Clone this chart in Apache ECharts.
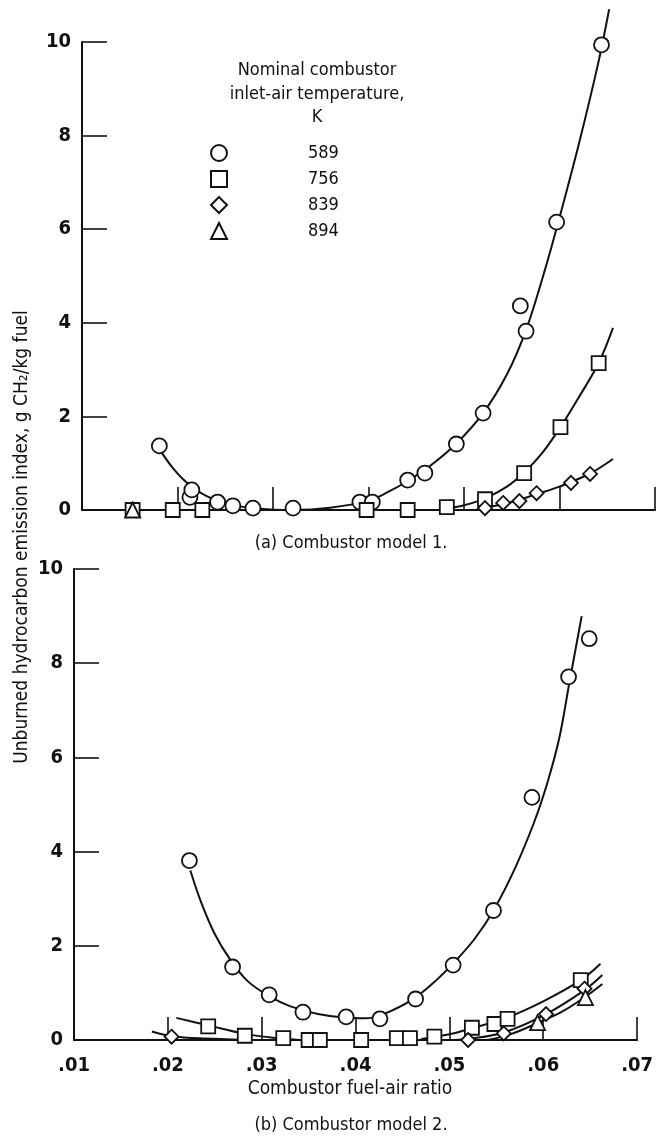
<!DOCTYPE html>
<html>
<head>
<meta charset="utf-8">
<script src="https://cdn.jsdelivr.net/npm/echarts@6/dist/echarts.min.js"></script>
<style>
  html, body { margin: 0; padding: 0; background: #fff; }
  #chart { width: 656px; height: 1141px; }
</style>
</head>
<body>
<div id="chart"></div>
<script>
// Unburned hydrocarbon emission index vs. combustor fuel-air ratio,
// two combustor models, four nominal inlet-air temperatures (K).

const temps = ['589', '756', '839', '894'];
const yTicks = [0, 2, 4, 6, 8, 10];

// ---- (a) Combustor model 1: measured points ----
const m1_589_x = [0.0181, 0.0213, 0.0215, 0.0242, 0.0258, 0.0279, 0.0321, 0.0391, 0.0404, 0.0441, 0.0459, 0.0492, 0.0520, 0.0559, 0.0565, 0.0597, 0.0644];
const m1_589_y = [1.37, 0.27, 0.43, 0.17, 0.09, 0.04, 0.04, 0.17, 0.17, 0.64, 0.79, 1.41, 2.07, 4.36, 3.82, 6.15, 9.94];
const m1_756_x = [0.0153, 0.0195, 0.0226, 0.0398, 0.0441, 0.0482, 0.0522, 0.0563, 0.0601, 0.0641];
const m1_756_y = [0, 0, 0, 0, 0, 0.06, 0.23, 0.79, 1.77, 3.14];
const m1_839_x = [0.0522, 0.0541, 0.0558, 0.0576, 0.0612, 0.0632];
const m1_839_y = [0.04, 0.15, 0.19, 0.36, 0.58, 0.77];
const m1_894_x = [0.0153];
const m1_894_y = [0];

// ---- (a) faired curves ----
const m1_589_fit_x = [0.0181, 0.0195, 0.0210, 0.0230, 0.0255, 0.0280, 0.0320, 0.0360, 0.0400, 0.0420, 0.0441, 0.0465, 0.0492, 0.0520, 0.0545, 0.0565, 0.0585, 0.0600, 0.0620, 0.0640, 0.0652];
const m1_589_fit_y = [1.30, 0.90, 0.58, 0.30, 0.12, 0.04, 0.00, 0.05, 0.20, 0.38, 0.62, 0.95, 1.42, 2.07, 2.90, 3.85, 5.15, 6.25, 7.80, 9.50, 10.70];
const m1_756_fit_x = [0.0484, 0.0500, 0.0522, 0.0545, 0.0563, 0.0582, 0.0601, 0.0620, 0.0641, 0.0656];
const m1_756_fit_y = [0.04, 0.10, 0.25, 0.50, 0.80, 1.22, 1.77, 2.40, 3.14, 3.89];
const m1_839_fit_x = [0.0512, 0.0530, 0.0550, 0.0576, 0.0600, 0.0632, 0.0656];
const m1_839_fit_y = [0.00, 0.08, 0.17, 0.34, 0.50, 0.78, 1.09];

// ---- (b) Combustor model 2: measured points ----
const m2_589_x = [0.0223, 0.0269, 0.0308, 0.0344, 0.0390, 0.0426, 0.0464, 0.0504, 0.0547, 0.0588, 0.0627, 0.0649];
const m2_589_y = [3.81, 1.55, 0.96, 0.59, 0.49, 0.45, 0.87, 1.59, 2.75, 5.15, 7.71, 8.52];
const m2_756_x = [0.0243, 0.0282, 0.0323, 0.0350, 0.0362, 0.0406, 0.0444, 0.0458, 0.0484, 0.0524, 0.0548, 0.0562, 0.0640];
const m2_756_y = [0.29, 0.09, 0.04, 0, 0, 0, 0.04, 0.04, 0.07, 0.26, 0.34, 0.45, 1.27];
const m2_839_x = [0.0204, 0.0520, 0.0558, 0.0603, 0.0644];
const m2_839_y = [0.07, 0.0, 0.14, 0.55, 1.09];
const m2_894_x = [0.0594, 0.0645];
const m2_894_y = [0.37, 0.90];

// ---- (b) faired curves (null breaks a curve into two pieces) ----
const m2_589_fit_x = [0.0224, 0.0235, 0.0250, 0.0267, 0.0285, 0.0308, 0.0330, 0.0360, 0.0390, 0.0410, 0.0430, 0.0460, 0.0485, 0.0507, 0.0527, 0.0547, 0.0570, 0.0591, 0.0605, 0.0617, 0.0628, 0.0641];
const m2_589_fit_y = [3.60, 2.95, 2.25, 1.69, 1.25, 0.93, 0.72, 0.55, 0.47, 0.46, 0.55, 0.85, 1.25, 1.69, 2.15, 2.75, 3.65, 4.66, 5.50, 6.40, 7.60, 9.00];
const m2_756_fit_x = [0.0209, 0.0243, 0.0282, 0.0320, 0.0340, null, 0.0470, 0.0500, 0.0524, 0.0562, 0.0600, 0.0640, 0.0661];
const m2_756_fit_y = [0.47, 0.31, 0.13, 0.03, 0.00, null, 0.02, 0.12, 0.25, 0.48, 0.82, 1.27, 1.62];
const m2_839_fit_x = [0.0183, 0.0204, 0.0240, 0.0290, 0.0320, null, 0.0505, 0.0520, 0.0558, 0.0603, 0.0644, 0.0663];
const m2_839_fit_y = [0.18, 0.08, 0.03, 0.00, 0.00, null, 0.00, 0.02, 0.16, 0.55, 1.06, 1.38];
const m2_894_fit_x = [0.0540, 0.0565, 0.0594, 0.0620, 0.0645, 0.0663];
const m2_894_fit_y = [0.00, 0.12, 0.36, 0.60, 0.92, 1.19];

const FONT = "'Liberation Sans Narrow','DejaVu Sans Condensed','Roboto Condensed',sans-serif";
const INK = '#111';

function pairs(xs, ys) {
  return xs.map((x, i) => (x === null ? [null, null] : [x, ys[i]]));
}

const symbolOf = { '589': 'circle', '756': 'rect', '839': 'diamond', '894': 'triangle' };
const sizeOf = { '589': 15, '756': 14, '839': 14, '894': 15 };

function points(name, xs, ys, axis) {
  return {
    name: name, type: 'scatter', xAxisIndex: axis, yAxisIndex: axis,
    data: pairs(xs, ys), symbol: symbolOf[name], symbolSize: sizeOf[name],
    itemStyle: { color: '#fff', borderColor: INK, borderWidth: 1.8, opacity: 1 },
    z: 5, silent: true, clip: false
  };
}

function curve(id, xs, ys, axis) {
  return {
    name: id, type: 'line', xAxisIndex: axis, yAxisIndex: axis,
    data: pairs(xs, ys), showSymbol: false, symbol: 'none',
    smooth: 0.35, connectNulls: false, clip: false,
    lineStyle: { color: INK, width: 2 }, z: 3, silent: true
  };
}

function xAxis(grid, showLabels) {
  return {
    type: 'value', gridIndex: grid, min: 0.01, max: 0.07, interval: 0.01,
    axisLine: { show: true, onZero: false, lineStyle: { color: INK, width: 2 } },
    axisTick: { show: true, inside: true, length: 23, lineStyle: { color: INK, width: 1.6 } },
    axisLabel: {
      show: showLabels, margin: 16, color: INK, fontFamily: FONT, fontWeight: 'bold', fontSize: 20,
      formatter: v => '.' + v.toFixed(2).slice(2)
    },
    splitLine: { show: false }
  };
}

function yAxis(grid) {
  return {
    type: 'value', gridIndex: grid, min: yTicks[0], max: yTicks[yTicks.length - 1], interval: 2,
    axisLine: { show: true, lineStyle: { color: INK, width: 2 } },
    axisTick: { show: true, inside: true, length: 25, lineStyle: { color: INK, width: 1.6 } },
    axisLabel: { margin: 11, color: INK, fontFamily: FONT, fontWeight: 'bold', fontSize: 20 },
    splitLine: { show: false }
  };
}

function label(text, x, y, size, extra) {
  return Object.assign({
    type: 'text', x: x, y: y, silent: true,
    style: { text: text, fill: INK, fontFamily: FONT, fontSize: size, align: 'center', verticalAlign: 'middle' }
  }, extra || {});
}

const chart = echarts.init(document.getElementById('chart'), null, { renderer: 'canvas' });

chart.setOption({
  backgroundColor: '#fff',
  animation: false,
  grid: [
    { left: 82, top: 42, width: 573, height: 468 },
    { left: 74, top: 569, width: 573, height: 471 }
  ],
  xAxis: [xAxis(0, false), xAxis(1, true)],
  yAxis: [yAxis(0), yAxis(1)],
  legend: {
    data: temps, orient: 'vertical', left: 205, top: 139,
    itemWidth: 16, itemHeight: 16, itemGap: 8, selectedMode: false,
    textStyle: { color: INK, fontFamily: FONT, fontSize: 18, padding: [0, 0, 0, 76] }
  },
  graphic: [
    label('Nominal combustor', 317, 70, 18),
    label('inlet-air temperature,', 317, 94, 18),
    label('K', 317, 117, 18),
    label('(a) Combustor model 1.', 351, 543, 18),
    label('Combustor fuel-air ratio', 350, 1089, 19),
    label('(b) Combustor model 2.', 351, 1125, 18),
    label('Unburned hydrocarbon emission index, g CH\u2082/kg fuel', 22, 537, 19, { rotation: Math.PI / 2 })
  ],
  series: [
    curve('m1-589', m1_589_fit_x, m1_589_fit_y, 0),
    curve('m1-756', m1_756_fit_x, m1_756_fit_y, 0),
    curve('m1-839', m1_839_fit_x, m1_839_fit_y, 0),
    points('589', m1_589_x, m1_589_y, 0),
    points('756', m1_756_x, m1_756_y, 0),
    points('839', m1_839_x, m1_839_y, 0),
    points('894', m1_894_x, m1_894_y, 0),

    curve('m2-589', m2_589_fit_x, m2_589_fit_y, 1),
    curve('m2-756', m2_756_fit_x, m2_756_fit_y, 1),
    curve('m2-839', m2_839_fit_x, m2_839_fit_y, 1),
    curve('m2-894', m2_894_fit_x, m2_894_fit_y, 1),
    points('589', m2_589_x, m2_589_y, 1),
    points('756', m2_756_x, m2_756_y, 1),
    points('839', m2_839_x, m2_839_y, 1),
    points('894', m2_894_x, m2_894_y, 1)
  ]
});
</script>
</body>
</html>
